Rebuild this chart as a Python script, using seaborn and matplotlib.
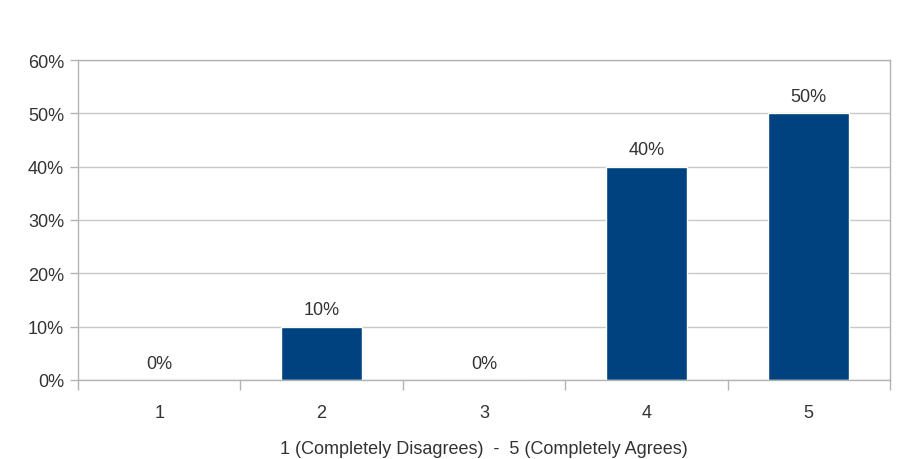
import matplotlib
matplotlib.use('Agg')
import pandas as pd
import matplotlib.pyplot as plt
import seaborn as sns
from matplotlib.ticker import PercentFormatter, FixedLocator

# Datos
categorias = ['1', '2', '3', '4', '5']
porcentajes = [0.0, 0.10, 0.0, 0.40, 0.50]
yticks = [0.0, 0.1, 0.2, 0.3, 0.4, 0.5, 0.6]

df = pd.DataFrame({'Respuesta': categorias, 'Porcentaje': porcentajes})

sns.set_style('white')
plt.rcParams['font.family'] = ['Liberation Sans', 'DejaVu Sans']

fig = plt.figure(figsize=(9, 4.6), dpi=100)
ax = fig.add_axes([78 / 900, 1 - 381 / 460, (890 - 78) / 900, (381 - 61) / 460])

sns.barplot(data=df, x='Respuesta', y='Porcentaje', color='#00427f',
            width=0.5, saturation=1, ax=ax)

gris = '#b3b3b3'
texto = '#333333'
ax.set_xlim(-0.5, len(categorias) - 0.5)
ax.set_ylim(0, 0.6)
ax.set_yticks(yticks)
ax.yaxis.set_major_formatter(PercentFormatter(1.0, decimals=0))
ax.grid(True, axis='y', color='#c8c8c8', linewidth=1)
ax.set_axisbelow(True)

for s in ax.spines.values():
    s.set_color(gris)
    s.set_linewidth(1)

# marcas entre categorías
ax.xaxis.set_minor_locator(FixedLocator([i - 0.5 for i in range(len(categorias) + 1)]))
ax.tick_params(axis='x', which='major', length=0, pad=17, labelsize=13, labelcolor=texto)
ax.tick_params(axis='x', which='minor', length=7, color=gris, width=1, direction='out', bottom=True)
ax.tick_params(axis='y', length=6, color=gris, width=1, direction='out', left=True,
               labelsize=13, labelcolor=texto, pad=4)

for c in ax.containers:
    ax.bar_label(c, labels=[f'{v * 100:.0f}%' for v in porcentajes],
                 padding=6, fontsize=13, color=texto)

ax.set_xlabel('1 (Completely Disagrees)  -  5 (Completely Agrees)',
              fontsize=13, color=texto, labelpad=14)
ax.set_ylabel('')

fig.savefig('out.png', dpi=100, facecolor='white')
